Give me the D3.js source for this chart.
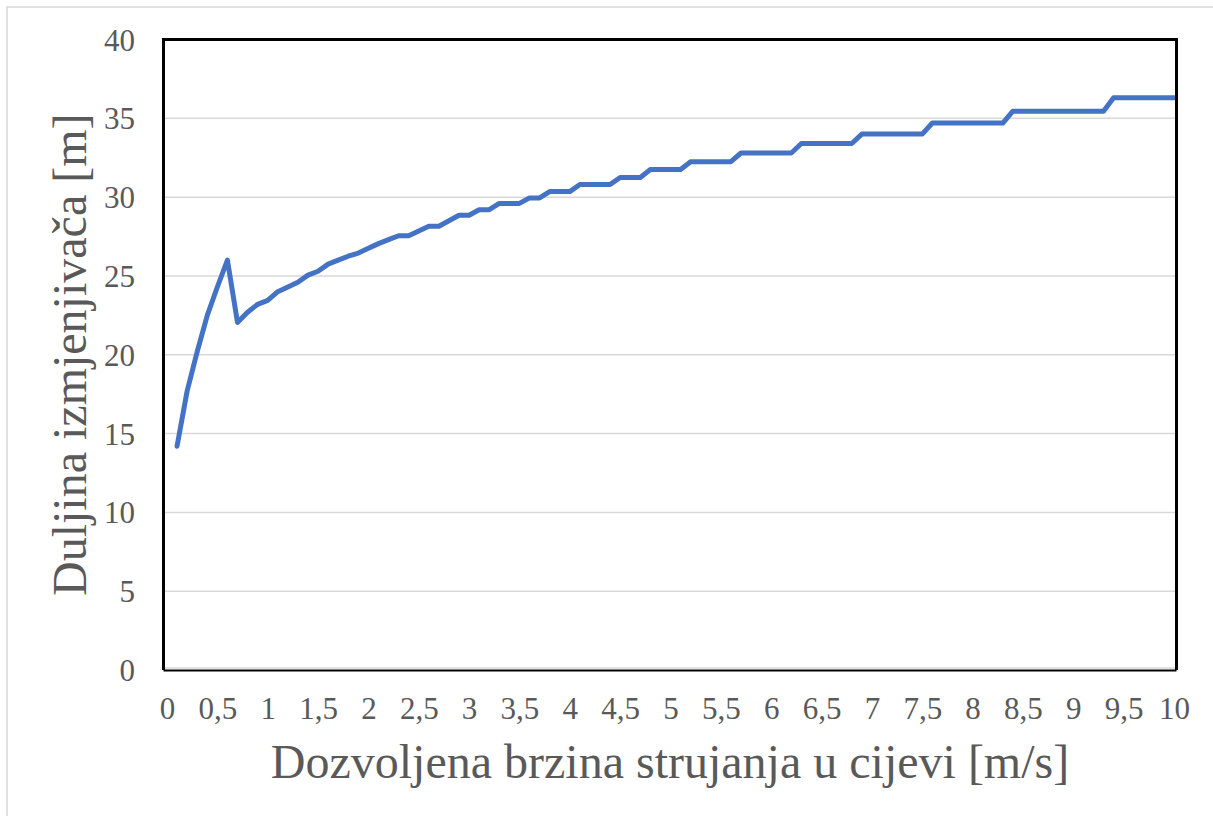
<!DOCTYPE html>
<html>
<head>
<meta charset="utf-8">
<script src="https://cdn.jsdelivr.net/npm/d3@7"></script>
<style>
  html, body { margin: 0; padding: 0; background: #ffffff; }
  svg { display: block; }
</style>
</head>
<body>
<svg id="chart" width="1213" height="816"></svg>
<script>
// Allowed flow velocity in the pipe [m/s]
const velocity = [
  0.1, 0.2, 0.3, 0.4, 0.5, 0.6, 0.7, 0.8, 0.9, 1.0,
  1.1, 1.2, 1.3, 1.4, 1.5, 1.6, 1.7, 1.8, 1.9, 2.0,
  2.1, 2.2, 2.3, 2.4, 2.5, 2.6, 2.7, 2.8, 2.9, 3.0,
  3.1, 3.2, 3.3, 3.4, 3.5, 3.6, 3.7, 3.8, 3.9, 4.0,
  4.1, 4.2, 4.3, 4.4, 4.5, 4.6, 4.7, 4.8, 4.9, 5.0,
  5.1, 5.2, 5.3, 5.4, 5.5, 5.6, 5.7, 5.8, 5.9, 6.0,
  6.1, 6.2, 6.3, 6.4, 6.5, 6.6, 6.7, 6.8, 6.9, 7.0,
  7.1, 7.2, 7.3, 7.4, 7.5, 7.6, 7.7, 7.8, 7.9, 8.0,
  8.1, 8.2, 8.3, 8.4, 8.5, 8.6, 8.7, 8.8, 8.9, 9.0,
  9.1, 9.2, 9.3, 9.4, 9.5, 9.6, 9.7, 9.8, 9.9, 10.0
];

// Heat exchanger length [m]
const exchangerLength = [
  14.2, 17.7, 20.2, 22.5, 24.3, 26.0, 22.05, 22.7, 23.2, 23.45,
  24.0, 24.3, 24.6, 25.05, 25.3, 25.75, 26.0, 26.25, 26.45, 26.75,
  27.05, 27.3, 27.55, 27.55, 27.85, 28.15, 28.15, 28.5, 28.85, 28.85,
  29.2, 29.2, 29.6, 29.6, 29.6, 29.95, 29.95, 30.35, 30.35, 30.35,
  30.8, 30.8, 30.8, 30.8, 31.25, 31.25, 31.25, 31.75, 31.75, 31.75,
  31.75, 32.25, 32.25, 32.25, 32.25, 32.25, 32.8, 32.8, 32.8, 32.8,
  32.8, 32.8, 33.4, 33.4, 33.4, 33.4, 33.4, 33.4, 34.0, 34.0,
  34.0, 34.0, 34.0, 34.0, 34.0, 34.7, 34.7, 34.7, 34.7, 34.7,
  34.7, 34.7, 34.7, 35.45, 35.45, 35.45, 35.45, 35.45, 35.45, 35.45,
  35.45, 35.45, 35.45, 36.3, 36.3, 36.3, 36.3, 36.3, 36.3, 36.3
];

const xTicks = [0, 0.5, 1, 1.5, 2, 2.5, 3, 3.5, 4, 4.5, 5, 5.5, 6, 6.5, 7, 7.5, 8, 8.5, 9, 9.5, 10];
const yTicks = [0, 5, 10, 15, 20, 25, 30, 35, 40];

const xTitle = "Dozvoljena brzina strujanja u cijevi [m/s]";
const yTitle = "Duljina izmjenjivača [m]";

const FONT = "'Times New Roman', 'Liberation Serif', serif";
const TEXT_COLOR = "#595959";
const GRID_COLOR = "#d9d9d9";
const LINE_COLOR = "#4472C4";

const svg = d3.select("#chart");

// Plot frame
const frame = { left: 163.5, right: 1176.5, top: 39.5, bottom: 670 };

const x = d3.scaleLinear().domain([0, 10]).range([167, 1174]);
const y = d3.scaleLinear().domain([0, 40]).range([670, 39.5]);

// Outer chart border
svg.append("rect")
  .attr("x", 7).attr("y", 7)
  .attr("width", 1212).attr("height", 815)
  .attr("fill", "none")
  .attr("stroke", GRID_COLOR)
  .attr("stroke-width", 1.5);

// Horizontal gridlines
svg.append("g")
  .selectAll("line")
  .data(yTicks.filter(d => d > 0 && d < 40))
  .join("line")
  .attr("x1", frame.left).attr("x2", frame.right)
  .attr("y1", d => y(d)).attr("y2", d => y(d))
  .attr("stroke", GRID_COLOR)
  .attr("stroke-width", 1.5);

// Gray zero line sitting just above the black bottom edge
svg.append("line")
  .attr("x1", frame.left).attr("x2", frame.right)
  .attr("y1", y(0) - 2).attr("y2", y(0) - 2)
  .attr("stroke", GRID_COLOR)
  .attr("stroke-width", 1.5);

// Y axis tick labels
const yAxis = d3.axisLeft(y).tickValues(yTicks).tickSize(0).tickPadding(0).tickFormat(d3.format("d"));
const gy = svg.append("g").attr("transform", "translate(135,0)").call(yAxis);
gy.select(".domain").remove();
gy.selectAll("text")
  .attr("x", 0)
  .attr("dy", "0.34em")
  .attr("fill", TEXT_COLOR)
  .style("font-family", FONT)
  .style("font-size", "31px");

// X axis tick labels (decimal comma)
const fmtComma = d => String(d).replace(".", ",");
const xAxis = d3.axisBottom(x).tickValues(xTicks).tickSize(0).tickPadding(0).tickFormat(fmtComma);
const gx = svg.append("g").attr("transform", "translate(0,719)").call(xAxis);
gx.select(".domain").remove();
gx.selectAll("text")
  .attr("y", 0)
  .attr("dy", 0)
  .attr("fill", TEXT_COLOR)
  .style("font-family", FONT)
  .style("font-size", "31px");

// Data line
const data = velocity.map((v, i) => ({ v, L: exchangerLength[i] }));
const line = d3.line().x(d => x(d.v)).y(d => y(d.L));
svg.append("path")
  .datum(data)
  .attr("d", line)
  .attr("fill", "none")
  .attr("stroke", LINE_COLOR)
  .attr("stroke-width", 5)
  .attr("stroke-linejoin", "round")
  .attr("stroke-linecap", "round");

// Black plot frame: heavy left/top/right, lighter bottom
svg.append("path")
  .attr("d", `M${frame.left},${frame.bottom} L${frame.left},${frame.top} L${frame.right},${frame.top} L${frame.right},${frame.bottom}`)
  .attr("fill", "none")
  .attr("stroke", "#000")
  .attr("stroke-width", 3);
svg.append("line")
  .attr("x1", frame.left).attr("x2", frame.right)
  .attr("y1", frame.bottom + 0.5).attr("y2", frame.bottom + 0.5)
  .attr("stroke", "#000")
  .attr("stroke-width", 2);

// Axis titles
svg.append("text")
  .attr("x", (frame.left + frame.right) / 2)
  .attr("y", 778)
  .attr("text-anchor", "middle")
  .attr("fill", TEXT_COLOR)
  .style("font-family", FONT)
  .style("font-size", "48px")
  .text(xTitle);

svg.append("text")
  .attr("transform", `translate(86,${(frame.top + frame.bottom) / 2}) rotate(-90)`)
  .attr("text-anchor", "middle")
  .attr("fill", TEXT_COLOR)
  .style("font-family", FONT)
  .style("font-size", "48px")
  .text(yTitle);
</script>
</body>
</html>
